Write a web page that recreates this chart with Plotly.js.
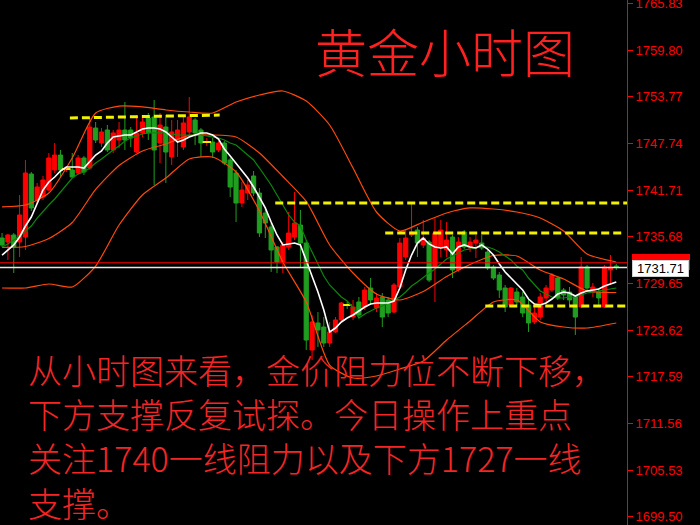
<!DOCTYPE html>
<html><head><meta charset="utf-8">
<script src="https://cdn.plot.ly/plotly-3.0.1.min.js"></script>
<style>html,body{margin:0;padding:0;background:#000;}#chart{width:700px;height:525px;}</style>
</head><body><div id="chart"></div>
<script>
// ---- candle data (hourly gold) ----
const openP = [1735.51,1734.99,1735.90,1734.99,1735.64,1743.78,1740.42,1740.81,1741.71,1744.30,
1746.23,1744.42,1744.30,1743.91,1745.85,1744.55,1749.72,1747.78,1749.46,1746.88,
1748.17,1749.46,1749.46,1746.62,1749.08,1751.01,1751.14,1747.78,1749.85,1745.98,
1748.17,1747.27,1749.21,1750.76,1749.46,1747.91,1747.91,1746.88,1747.78,1745.59,
1743.91,1740.03,1741.32,1743.52,1741.32,1738.74,1736.93,1734.35,1732.41,1734.35,
1735.64,1737.19,1734.86,1721.04,1724.53,1724.01,1721.94,1723.37,1724.92,1726.85,
1725.30,1727.24,1726.60,1729.05,1726.47,1727.89,1727.50,1725.95,1729.18,1733.06,
1735.90,1736.54,1734.61,1734.99,1731.76,1734.35,1733.96,1735.64,1731.38,1736.29,
1734.22,1734.86,1734.86,1733.70,1731.76,1730.73,1729.05,1726.85,1728.53,1727.89,
1726.85,1724.66,1725.30,1727.76,1728.79,1730.34,1728.79,1728.53,1727.89,1726.60,
1731.76,1728.53,1728.53,1726.60,1731.38,1731.89];
const highP = [1736.16,1736.03,1736.16,1741.07,1745.59,1744.04,1742.62,1743.52,1746.49,1747.78,
1746.88,1744.81,1746.49,1746.23,1746.10,1751.01,1750.50,1749.72,1750.11,1749.46,
1750.50,1753.08,1749.85,1751.40,1751.40,1751.66,1753.34,1751.66,1751.40,1750.76,
1750.76,1751.14,1753.73,1751.01,1749.72,1748.43,1748.43,1748.04,1748.04,1745.85,
1744.30,1742.75,1743.00,1744.17,1741.97,1739.52,1737.45,1734.48,1734.99,1738.87,
1741.45,1739.13,1735.25,1725.56,1725.95,1725.30,1724.66,1725.30,1727.24,1727.24,
1727.50,1727.89,1729.18,1730.34,1728.40,1728.40,1727.89,1729.70,1735.51,1736.54,
1740.03,1736.93,1737.84,1735.25,1738.10,1737.84,1737.58,1735.90,1735.64,1736.54,
1735.64,1735.90,1735.90,1733.96,1732.02,1731.12,1729.44,1729.18,1729.05,1728.53,
1727.50,1727.11,1728.40,1729.44,1730.99,1730.47,1729.05,1729.18,1728.15,1733.06,
1732.02,1729.70,1729.05,1732.02,1733.32,1732.15];
const lowP = [1734.35,1732.67,1730.99,1733.06,1733.96,1739.00,1740.03,1740.42,1741.58,1743.91,
1743.39,1744.04,1743.26,1743.65,1743.65,1744.30,1747.78,1747.27,1746.62,1746.49,
1747.14,1746.88,1747.27,1746.49,1748.56,1748.17,1742.36,1745.20,1742.62,1744.94,
1745.98,1746.88,1748.82,1747.53,1745.98,1747.40,1745.85,1746.62,1744.94,1740.81,
1737.58,1739.52,1740.42,1740.94,1735.64,1735.51,1731.12,1730.99,1730.99,1733.96,
1735.25,1731.76,1721.04,1719.75,1721.43,1721.43,1721.43,1723.24,1724.66,1726.34,
1724.92,1725.17,1726.21,1726.85,1725.95,1724.01,1725.30,1725.82,1728.92,1732.67,
1735.64,1733.06,1734.22,1729.83,1727.24,1733.06,1733.06,1730.34,1731.12,1734.09,
1733.70,1732.93,1733.96,1731.38,1730.08,1727.76,1725.95,1726.60,1726.85,1725.30,
1723.37,1724.40,1724.92,1727.11,1728.53,1727.50,1727.50,1726.85,1722.98,1726.47,
1728.53,1727.89,1726.60,1726.47,1729.44,1731.38];
const closeP = [1734.61,1735.90,1734.35,1738.48,1743.91,1739.39,1742.10,1743.00,1745.85,1746.23,
1744.30,1744.42,1743.39,1745.85,1744.04,1749.85,1748.17,1749.21,1746.88,1749.08,
1749.46,1748.17,1748.43,1749.08,1750.50,1749.08,1746.88,1750.11,1746.62,1749.21,
1749.46,1750.37,1751.14,1749.08,1747.78,1747.91,1746.62,1747.78,1745.20,1742.10,
1740.03,1741.71,1742.36,1741.32,1736.16,1737.45,1733.96,1732.41,1734.61,1736.16,
1737.45,1734.86,1722.33,1724.66,1723.62,1721.94,1723.37,1724.92,1727.11,1726.85,
1726.60,1725.56,1728.79,1727.50,1727.76,1725.30,1725.82,1729.44,1734.86,1735.51,
1736.29,1734.86,1735.51,1730.08,1736.16,1736.54,1735.25,1731.38,1734.99,1734.35,
1734.99,1735.25,1734.22,1731.63,1730.34,1728.79,1726.60,1729.05,1727.24,1725.82,
1724.53,1725.82,1727.89,1729.05,1730.73,1727.76,1728.15,1727.50,1725.30,1731.76,
1729.05,1729.18,1727.76,1731.76,1731.76,1731.71];

// ---- indicators ----
const maFast = [1733.31,1733.96,1734.61,1735.64,1737.06,1738.22,1740.03,1741.71,1742.75,1743.39,
1744.17,1744.68,1744.68,1744.68,1744.55,1745.46,1746.23,1746.75,1747.78,1748.56,
1748.69,1748.82,1748.82,1749.21,1749.59,1749.72,1749.72,1749.59,1749.21,1748.56,
1747.91,1748.17,1748.56,1748.82,1749.08,1749.08,1748.82,1748.30,1747.01,1746.10,
1745.20,1744.17,1743.26,1742.10,1740.81,1739.39,1737.58,1735.90,1734.61,1734.74,
1734.86,1734.61,1732.67,1730.47,1728.53,1726.21,1723.37,1723.88,1724.66,1725.17,
1725.56,1726.08,1726.60,1726.98,1727.11,1727.11,1727.11,1727.37,1729.05,1731.38,
1733.31,1734.86,1735.51,1734.74,1734.35,1734.22,1734.35,1733.44,1734.35,1734.61,
1734.35,1734.22,1734.61,1734.09,1733.31,1732.15,1731.12,1730.34,1729.57,1728.79,
1727.63,1726.98,1726.85,1727.11,1727.63,1728.27,1728.53,1728.40,1728.02,1728.40,
1728.66,1728.79,1728.92,1729.31,1729.57,1729.83];
const maSlow = [1734.35,1734.74,1735.25,1735.77,1736.41,1737.06,1738.09,1739.00,1739.77,1740.55,
1741.45,1742.23,1743.26,1743.78,1744.04,1744.55,1745.20,1745.72,1746.36,1746.88,
1747.40,1748.04,1748.43,1748.69,1748.95,1749.08,1749.08,1749.08,1749.08,1748.95,
1748.82,1748.82,1748.82,1748.82,1748.82,1748.69,1748.56,1748.43,1748.17,1747.78,
1747.53,1746.88,1746.23,1745.59,1744.55,1743.52,1742.36,1741.07,1739.77,1738.48,
1737.58,1737.06,1735.25,1733.70,1732.15,1730.60,1729.44,1728.66,1727.89,1727.37,
1726.47,1725.17,1725.69,1726.08,1726.47,1726.72,1727.11,1727.50,1727.89,1728.53,
1729.31,1729.83,1730.47,1730.99,1731.51,1732.15,1732.80,1733.19,1733.57,1733.96,
1734.09,1734.22,1734.35,1734.35,1734.09,1733.70,1733.19,1732.67,1731.89,1731.38,
1730.34,1729.44,1728.66,1728.27,1727.89,1727.76,1727.76,1727.89,1727.89,1728.15,
1728.40,1728.53,1728.66,1728.79,1728.92,1729.05];

const bandIdx = [0,4,8,12,16,20,24,28,32,36,40,44,48,52,56,60,64,68,72,76,80,84,88,92,96,100,105];
const bandUpper = [1739.52,1739.77,1741.32,1745.85,1751.66,1752.56,1752.44,1752.05,1751.79,1751.66,
1753.08,1753.99,1754.50,1753.21,1750.11,1744.55,1738.87,1736.41,1737.58,1738.74,
1739.39,1739.26,1738.87,1738.09,1736.41,1733.44,1732.41];
const bandMid = [1734.29,1734.41,1735.45,1737.52,1741.78,1744.88,1746.76,1747.66,1748.76,1748.82,
1748.56,1746.50,1743.46,1740.23,1734.61,1730.99,1728.28,1727.50,1728.60,1730.54,
1732.09,1733.25,1733.19,1731.38,1730.21,1728.66,1728.47];
const bandLower = [1729.05,1729.05,1729.57,1729.18,1731.89,1737.19,1741.07,1743.26,1745.72,1745.98,
1744.04,1739.00,1732.41,1727.24,1719.10,1717.42,1717.68,1718.59,1719.62,1722.33,
1724.79,1727.24,1727.50,1724.66,1724.01,1723.88,1724.53];

// ---- drawn levels (yellow dashed) ----
const levelFrom = [11.6, 46.7, 65.5, 82.6];
const levelTo = [37.2, 106.9, 106.0, 106.9];
const levelFromPrice = [1751.01, 1740.03, 1736.16, 1726.72];
const levelToPrice = [1751.40, 1740.03, 1736.16, 1726.72];

const askPrice = 1732.31;
const bidPrice = 1731.71;
const yTicks = [1699.50,1705.53,1711.56,1717.59,1723.62,1729.65,1735.68,1741.71,1747.74,1753.77,1759.80,1765.83];

const titleText = '黄金小时图';
const noteLines = ['从小时图来看，金价阻力位不断下移，','下方支撑反复试探。今日操作上重点','关注1740一线阻力以及下方1727一线','支撑。'];

// ---- build ----
const idx = openP.map((_, i) => i);
const dojiIdx = idx.filter(i => openP[i] === closeP[i]);

const RED = '#ff0000', GREEN = '#1f9f1f', BAND = '#ff4a0a', YEL = '#f2f200';
const traces = [];
traces.push({type:'candlestick', x: idx, open: openP, high: highP, low: lowP, close: closeP,
  increasing:{line:{color:RED, width:1}, fillcolor:RED},
  decreasing:{line:{color:GREEN, width:1}, fillcolor:GREEN},
  whiskerwidth:0, hoverinfo:'skip'});
traces.push({type:'scatter', mode:'markers', x: dojiIdx, y: dojiIdx.map(i => closeP[i]),
  marker:{symbol:'line-ew', size:6, line:{color:YEL, width:2}}, hoverinfo:'skip'});
[bandUpper, bandMid, bandLower].forEach(b => traces.push({type:'scatter', mode:'lines', x: bandIdx, y: b,
  line:{color:BAND, width:1.2, shape:'spline', smoothing:0.6}, hoverinfo:'skip'}));
traces.push({type:'scatter', mode:'lines', x: idx, y: maSlow, line:{color:'#0b870b', width:1.2}, hoverinfo:'skip'});
traces.push({type:'scatter', mode:'lines', x: idx, y: maFast, line:{color:'#ffffff', width:1.6}, hoverinfo:'skip'});
levelFrom.forEach((x0, k) => traces.push({type:'scatter', mode:'lines',
  x:[x0, levelTo[k]], y:[levelFromPrice[k], levelToPrice[k]],
  line:{color:YEL, width:3, dash:'8px,4px'}, hoverinfo:'skip'}));

const PLOT_W = 627, H = 525;
const annotations = [];
annotations.push({xref:'paper', yref:'paper', x:445/PLOT_W, y:1-50/H, xanchor:'center', yanchor:'middle',
  text:titleText, showarrow:false, font:{family:'Noto Sans CJK SC', size:52, weight:300, color:'#ff2020'}});
annotations.push({xref:'paper', yref:'paper', x:27/PLOT_W, y:1-436/H,
  xanchor:'left', yanchor:'middle', align:'left', text:noteLines.join('<br>'), showarrow:false, borderpad:0,
  font:{family:'Noto Sans CJK SC', size:34, weight:300, color:'#f52525'}});
annotations.push({xref:'paper', yref:'y', x:1, y:askPrice, xanchor:'left', yanchor:'middle', xshift:5, yshift:1,
  text:'', showarrow:false, bgcolor:RED, bordercolor:RED, borderpad:0, width:56, height:14,
  font:{family:'Liberation Sans', size:13, color:'#ffffff'}});
annotations.push({xref:'paper', yref:'y', x:1, y:bidPrice, xanchor:'left', yanchor:'middle', xshift:5, yshift:-1,
  text:bidPrice.toFixed(2), showarrow:false, bgcolor:'#ffffff', bordercolor:'#d0d0d0', borderpad:0, width:55, height:15,
  font:{family:'Liberation Sans', size:13, color:'#000000'}});

const layout = {
  width:700, height:525, margin:{l:0, r:73, t:0, b:0},
  paper_bgcolor:'#000000', plot_bgcolor:'#000000', showlegend:false,
  boxgap:0.2, boxgroupgap:0.1,
  xaxis:{range:[-0.35, 106.83], visible:false, showgrid:false, zeroline:false, rangeslider:{visible:false}, fixedrange:true},
  yaxis:{side:'right', range:[1698.43, 1766.26], showgrid:false, zeroline:false,
    showline:true, linecolor:RED, linewidth:1, ticks:'outside', ticklen:5, tickwidth:1, tickcolor:RED,
    tickvals:yTicks, ticktext:yTicks.map(v => v.toFixed(2)), ticklabeloverflow:'allow',
    tickfont:{family:'Liberation Sans, Arial', size:13, color:RED}, fixedrange:true},
  shapes:[
    {type:'line', xref:'paper', x0:0, x1:1, yref:'y', y0:askPrice, y1:askPrice, line:{color:RED, width:1}},
    {type:'line', xref:'paper', x0:0, x1:1, yref:'y', y0:bidPrice, y1:bidPrice, line:{color:'#e8e8e8', width:1.5}}
  ],
  annotations: annotations
};
Plotly.newPlot('chart', traces, layout, {displayModeBar:false, staticPlot:true});
</script></body></html>
